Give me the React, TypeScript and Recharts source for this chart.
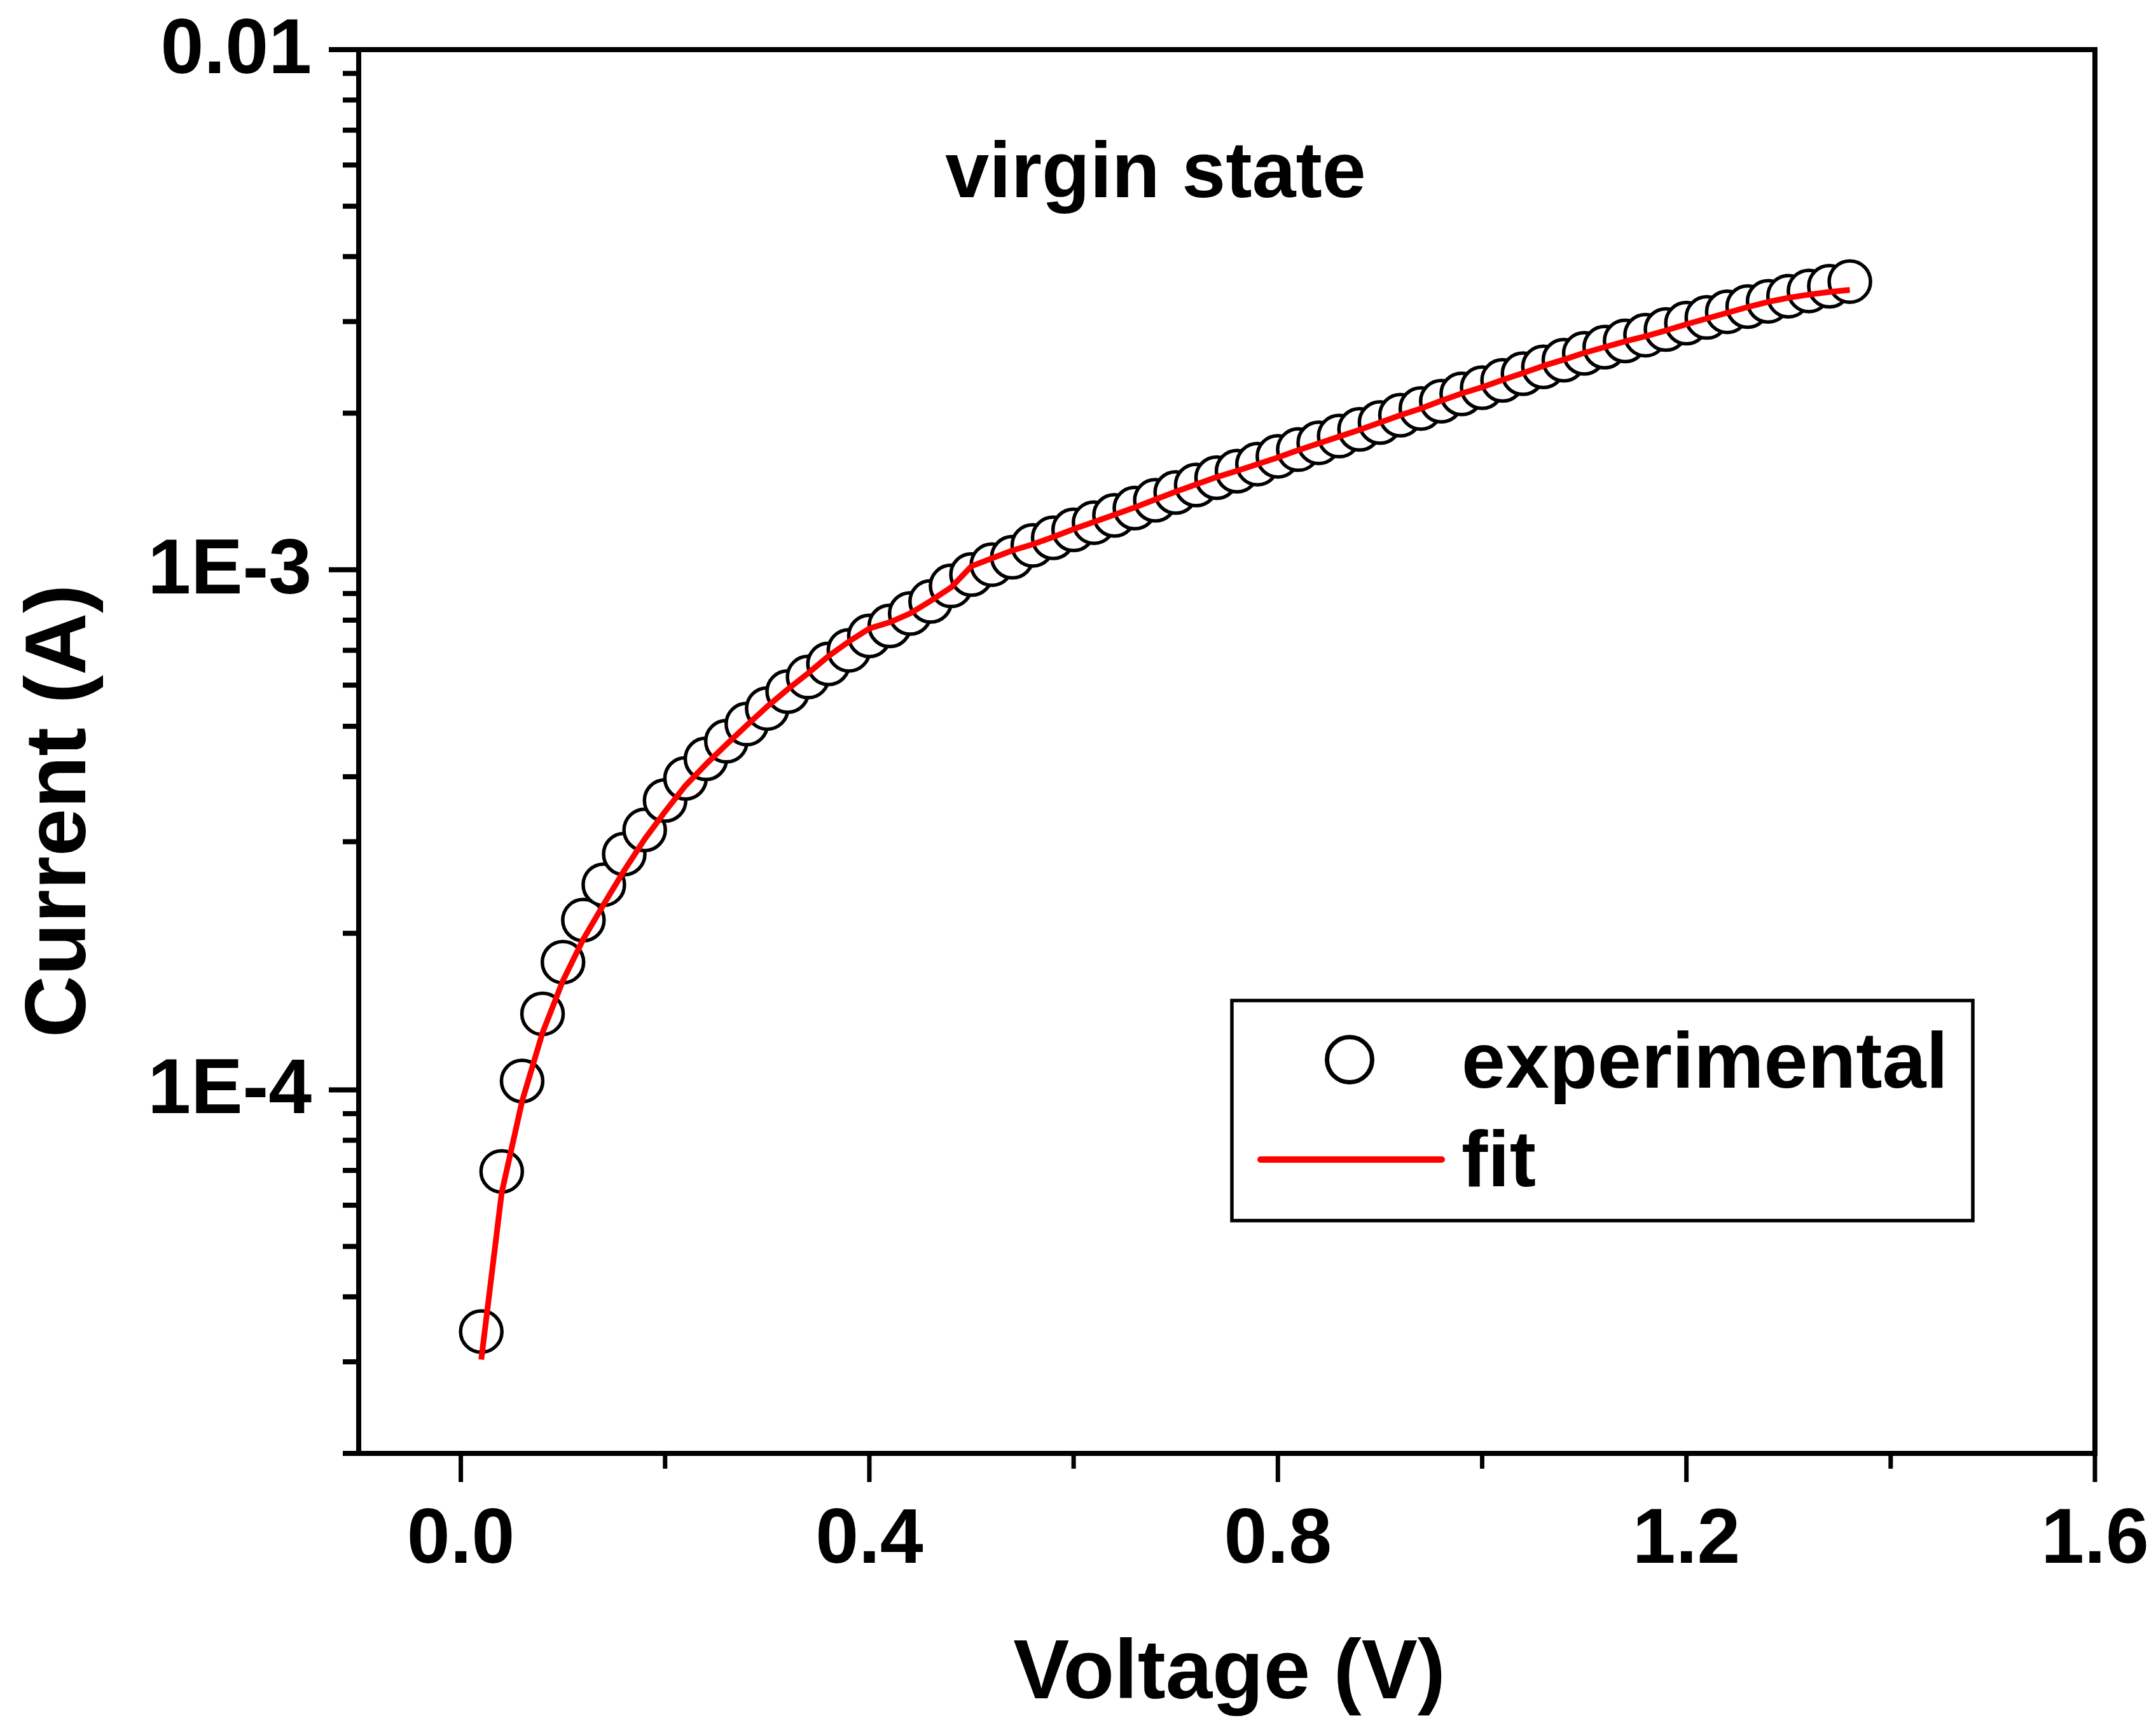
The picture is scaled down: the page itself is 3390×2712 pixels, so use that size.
import React from "react";
import { ComposedChart, Scatter, Line, XAxis, YAxis, Legend } from "recharts";

const FONT = "'Liberation Sans', Arial, Helvetica, sans-serif";

// voltage steps (V)
const voltage = [
  0.02, 0.04, 0.06, 0.08, 0.1, 0.12, 0.14, 0.16, 0.18, 0.2,
  0.22, 0.24, 0.26, 0.28, 0.3, 0.32, 0.34, 0.36, 0.38, 0.4,
  0.42, 0.44, 0.46, 0.48, 0.5, 0.52, 0.54, 0.56, 0.58, 0.6,
  0.62, 0.64, 0.66, 0.68, 0.7, 0.72, 0.74, 0.76, 0.78, 0.8,
  0.82, 0.84, 0.86, 0.88, 0.9, 0.92, 0.94, 0.96, 0.98, 1.0,
  1.02, 1.04, 1.06, 1.08, 1.1, 1.12, 1.14, 1.16, 1.18, 1.2,
  1.22, 1.24, 1.26, 1.28, 1.3, 1.32, 1.34, 1.36,
];

// measured current (A), open circles
const experimentalCurrent = [
  3.43e-5, 6.97e-5, 1.04e-4, 1.4e-4, 1.76e-4, 2.12e-4, 2.48e-4, 2.84e-4, 3.16e-4, 3.6e-4,
  3.97e-4, 4.33e-4, 4.68e-4, 5.05e-4, 5.41e-4, 5.83e-4, 6.22e-4, 6.59e-4, 7.0e-4, 7.46e-4,
  7.8e-4, 8.24e-4, 8.69e-4, 9.31e-4, 9.79e-4, 1.023e-3, 1.057e-3, 1.114e-3, 1.152e-3, 1.193e-3,
  1.232e-3, 1.272e-3, 1.314e-3, 1.36e-3, 1.408e-3, 1.455e-3, 1.503e-3, 1.547e-3, 1.596e-3, 1.652e-3,
  1.702e-3, 1.754e-3, 1.807e-3, 1.862e-3, 1.919e-3, 1.982e-3, 2.042e-3, 2.109e-3, 2.178e-3, 2.239e-3,
  2.312e-3, 2.382e-3, 2.455e-3, 2.529e-3, 2.606e-3, 2.679e-3, 2.754e-3, 2.825e-3, 2.897e-3, 2.979e-3,
  3.055e-3, 3.133e-3, 3.206e-3, 3.281e-3, 3.357e-3, 3.436e-3, 3.508e-3, 3.581e-3,
];

// fitted current (A), red line
const fitCurrent = [
  3.03e-5, 6.34e-5, 9.51e-5, 1.288e-4, 1.622e-4, 1.95e-4, 2.275e-4, 2.642e-4, 3.034e-4, 3.428e-4,
  3.846e-4, 4.227e-4, 4.613e-4, 5.023e-4, 5.458e-4, 5.888e-4, 6.324e-4, 6.823e-4, 7.278e-4, 7.709e-4,
  7.925e-4, 8.241e-4, 8.71e-4, 9.247e-4, 1.016e-3, 1.052e-3, 1.089e-3, 1.119e-3, 1.156e-3, 1.197e-3,
  1.236e-3, 1.276e-3, 1.318e-3, 1.365e-3, 1.413e-3, 1.459e-3, 1.507e-3, 1.549e-3, 1.596e-3, 1.644e-3,
  1.698e-3, 1.75e-3, 1.803e-3, 1.858e-3, 1.919e-3, 1.982e-3, 2.042e-3, 2.113e-3, 2.183e-3, 2.244e-3,
  2.317e-3, 2.388e-3, 2.466e-3, 2.535e-3, 2.612e-3, 2.679e-3, 2.748e-3, 2.812e-3, 2.884e-3, 2.965e-3,
  3.041e-3, 3.119e-3, 3.199e-3, 3.273e-3, 3.334e-3, 3.381e-3, 3.42e-3, 3.451e-3,
];

const xTicks = [0, 0.2, 0.4, 0.6, 0.8, 1.0, 1.2, 1.4, 1.6];
const xMajorTicks = [0, 0.4, 0.8, 1.2, 1.6];
const yTicks = [
  2e-5, 3e-5, 4e-5, 5e-5, 6e-5, 7e-5, 8e-5, 9e-5,
  1e-4, 2e-4, 3e-4, 4e-4, 5e-4, 6e-4, 7e-4, 8e-4, 9e-4,
  1e-3, 2e-3, 3e-3, 4e-3, 5e-3, 6e-3, 7e-3, 8e-3, 9e-3, 1e-2,
];
const yMajorTicks = [1e-4, 1e-3, 1e-2];
const yMajorLabels = ["1E-4", "1E-3", "0.01"];

const expRows = voltage.map((v, k) => ({ v, i: experimentalCurrent[k] }));
const fitRows = voltage.map((v, k) => ({ v, i: fitCurrent[k] }));

const YTick = (props: any) => {
  const { x, y, payload } = props;
  const idx = yMajorTicks.findIndex((t) => Math.abs(t - payload.value) / t < 1e-6);
  const major = idx >= 0;
  return (
    <g>
      <line x1={x} x2={x - (major ? 47 : 25)} y1={y} y2={y} stroke="#000" strokeWidth={8} />
      {major && (
        <text
          x={x - 74}
          y={y + 37}
          textAnchor="end"
          fontSize={122}
          fontWeight="bold"
          fontFamily={FONT}
          fill="#000"
        >
          {yMajorLabels[idx]}
        </text>
      )}
    </g>
  );
};

const XTick = (props: any) => {
  const { x, y, payload } = props;
  const major = xMajorTicks.some((t) => Math.abs(t - payload.value) < 1e-6);
  return (
    <g>
      <line x1={x} x2={x} y1={y} y2={y + (major ? 45 : 24)} stroke="#000" strokeWidth={7} />
      {major && (
        <text
          x={x}
          y={y + 172}
          textAnchor="middle"
          fontSize={122}
          fontWeight="bold"
          fontFamily={FONT}
          fill="#000"
        >
          {payload.value.toFixed(1)}
        </text>
      )}
    </g>
  );
};

const OpenCircle = (props: any) => (
  <circle cx={props.cx} cy={props.cy} r={32.5} fill="#fff" stroke="#000" strokeWidth={5.5} />
);

const LegendBox = () => (
  <svg width={1171} height={352} style={{ display: "block" }}>
    <rect x={3} y={3} width={1165} height={346} fill="#fff" stroke="#000" strokeWidth={5.5} />
    <circle cx={188} cy={96} r={35.5} fill="#fff" stroke="#000" strokeWidth={7} />
    <line x1={48} x2={333} y1={253} y2={253} stroke="#ff0000" strokeWidth={10} strokeLinecap="round" />
    <text x={364} y={140} fontSize={124} fontWeight="bold" fontFamily={FONT} fill="#000">
      experimental
    </text>
    <text x={364} y={295} fontSize={124} fontWeight="bold" fontFamily={FONT} fill="#000">
      fit
    </text>
  </svg>
);

const frame = { stroke: "#000", strokeWidth: 8, strokeLinecap: "square" as const };

export default function App() {
  return (
    <div style={{ position: "absolute", left: 0, top: 0, width: 3390, height: 2712, background: "#fff" }}>
      <ComposedChart
        width={3390}
        height={2712}
        margin={{ top: 77, right: 95, bottom: 426, left: 563 }}
      >
        <XAxis
          dataKey="v"
          type="number"
          domain={[-0.1, 1.6]}
          allowDataOverflow
          ticks={xTicks}
          interval={0}
          height={1}
          tickSize={0}
          tickMargin={0}
          tickLine={false}
          tick={<XTick />}
          axisLine={frame}
        />
        <XAxis
          xAxisId="top"
          orientation="top"
          type="number"
          domain={[-0.1, 1.6]}
          ticks={[-0.1, 1.6]}
          height={1}
          tick={false}
          tickLine={false}
          axisLine={frame}
        />
        <YAxis
          dataKey="i"
          type="number"
          scale="log"
          domain={[2e-5, 1e-2]}
          allowDataOverflow
          ticks={yTicks}
          interval={0}
          width={1}
          tickSize={0}
          tickMargin={0}
          tickLine={false}
          tick={<YTick />}
          axisLine={frame}
        />
        <YAxis
          yAxisId="right"
          orientation="right"
          type="number"
          domain={[0, 1]}
          ticks={[0, 1]}
          width={1}
          tick={false}
          tickLine={false}
          axisLine={frame}
        />
        <Legend
          layout="vertical"
          align="center"
          verticalAlign="middle"
          content={() => <LegendBox />}
          wrapperStyle={{ left: 1934, top: 1570, width: 1171, height: 352, lineHeight: 0 }}
        />
        <Scatter
          name="experimental"
          data={expRows}
          dataKey="i"
          shape={OpenCircle}
          isAnimationActive={false}
        />
        <Line
          name="fit"
          data={fitRows}
          dataKey="i"
          type="linear"
          stroke="#ff0000"
          strokeWidth={9}
          strokeLinejoin="round"
          dot={false}
          activeDot={false}
          isAnimationActive={false}
          zIndex={700}
        />
      </ComposedChart>
      <svg
        width={3390}
        height={2712}
        style={{ position: "absolute", left: 0, top: 0, pointerEvents: "none" }}
      >
        <text x={1817} y={310} textAnchor="middle" fontSize={124} fontWeight="bold" fontFamily={FONT} fill="#000">
          virgin state
        </text>
        <text x={1933} y={2670} textAnchor="middle" fontSize={132} fontWeight="bold" fontFamily={FONT} fill="#000">
          Voltage (V)
        </text>
        <text
          transform="translate(134,1275) rotate(-90)"
          textAnchor="middle"
          fontSize={135}
          fontWeight="bold"
          fontFamily={FONT}
          fill="#000"
        >
          Current (A)
        </text>
      </svg>
    </div>
  );
}
